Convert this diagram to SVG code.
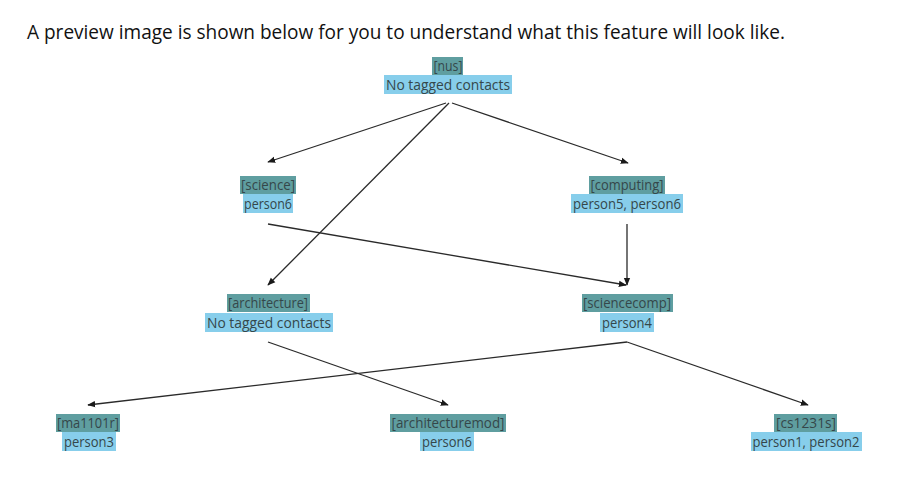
<svg xmlns="http://www.w3.org/2000/svg" width="916" height="491" viewBox="0 0 916 491">
<defs>
<marker id="ah" viewBox="0 0 10 10" refX="9" refY="5" markerWidth="8" markerHeight="8" orient="auto" markerUnits="userSpaceOnUse">
<path d="M0,1 L10,5 L0,9 Z" fill="#1a1a1a"/>
</marker>
<style>
.t{font-family:"Open Sans","Noto Sans","Liberation Sans",sans-serif;font-size:14px;fill:#35474a;text-anchor:middle}
.title{font-family:"Open Sans","Noto Sans","Liberation Sans",sans-serif;font-size:19.5px;fill:#111}
.h{fill:#5f9ea0}
.b{fill:#87ceeb}
.e{stroke:#2a2a2a;stroke-width:1.3;fill:none;marker-end:url(#ah)}
</style>
</defs>
<rect width="916" height="491" fill="#fff"/>
<text class="title" x="27" y="39" textLength="758" lengthAdjust="spacingAndGlyphs">A preview image is shown below for you to understand what this feature will look like.</text>
<g id="connectors">
<line class="e" x1="446" y1="103" x2="268" y2="162"/>
<line class="e" x1="452" y1="103" x2="628" y2="163"/>
<line class="e" x1="449" y1="103" x2="268" y2="285"/>
<line class="e" x1="268" y1="224" x2="626" y2="285"/>
<line class="e" x1="627" y1="224" x2="627" y2="285"/>
<line class="e" x1="268" y1="342" x2="448" y2="405"/>
<line class="e" x1="627" y1="342" x2="88" y2="405"/>
<line class="e" x1="627" y1="342" x2="808" y2="405"/>
</g>
<g id="node-nus">
<rect class="h" x="432" y="57" width="31" height="18"/>
<rect class="b" x="384" y="75" width="128" height="19"/>
<text class="t" x="448" y="71" textLength="29" lengthAdjust="spacingAndGlyphs">[nus]</text>
<text class="t" x="448" y="90" textLength="124" lengthAdjust="spacingAndGlyphs">No tagged contacts</text>
</g>
<g id="node-science">
<rect class="h" x="240" y="176" width="56" height="18"/>
<rect class="b" x="243" y="194" width="50" height="19"/>
<text class="t" x="268" y="190" textLength="54" lengthAdjust="spacingAndGlyphs">[science]</text>
<text class="t" x="268" y="209" textLength="48" lengthAdjust="spacingAndGlyphs">person6</text>
</g>
<g id="node-computing">
<rect class="h" x="589" y="176" width="76" height="18"/>
<rect class="b" x="571" y="194" width="112" height="19"/>
<text class="t" x="627" y="190" textLength="73" lengthAdjust="spacingAndGlyphs">[computing]</text>
<text class="t" x="627" y="209" textLength="108" lengthAdjust="spacingAndGlyphs">person5, person6</text>
</g>
<g id="node-architecture">
<rect class="h" x="227" y="294" width="83" height="18"/>
<rect class="b" x="205" y="313" width="128" height="19"/>
<text class="t" x="268" y="308" textLength="80" lengthAdjust="spacingAndGlyphs">[architecture]</text>
<text class="t" x="269" y="328" textLength="124" lengthAdjust="spacingAndGlyphs">No tagged contacts</text>
</g>
<g id="node-sciencecomp">
<rect class="h" x="582" y="294" width="91" height="18"/>
<rect class="b" x="600" y="313" width="54" height="19"/>
<text class="t" x="627" y="308" textLength="88" lengthAdjust="spacingAndGlyphs">[sciencecomp]</text>
<text class="t" x="627" y="328" textLength="50" lengthAdjust="spacingAndGlyphs">person4</text>
</g>
<g id="node-ma1101r">
<rect class="h" x="56" y="414" width="64" height="18"/>
<rect class="b" x="62" y="432" width="54" height="19"/>
<text class="t" x="88" y="428" textLength="62" lengthAdjust="spacingAndGlyphs">[ma1101r]</text>
<text class="t" x="89" y="447" textLength="50" lengthAdjust="spacingAndGlyphs">person3</text>
</g>
<g id="node-architecturemod">
<rect class="h" x="390" y="414" width="116" height="18"/>
<rect class="b" x="420" y="432" width="54" height="19"/>
<text class="t" x="448" y="428" textLength="113" lengthAdjust="spacingAndGlyphs">[architecturemod]</text>
<text class="t" x="447" y="447" textLength="50" lengthAdjust="spacingAndGlyphs">person6</text>
</g>
<g id="node-cs1231s">
<rect class="h" x="774" y="414" width="63" height="18"/>
<rect class="b" x="751" y="432" width="111" height="19"/>
<text class="t" x="806" y="428" textLength="60" lengthAdjust="spacingAndGlyphs">[cs1231s]</text>
<text class="t" x="806" y="447" textLength="107" lengthAdjust="spacingAndGlyphs">person1, person2</text>
</g>
</svg>
